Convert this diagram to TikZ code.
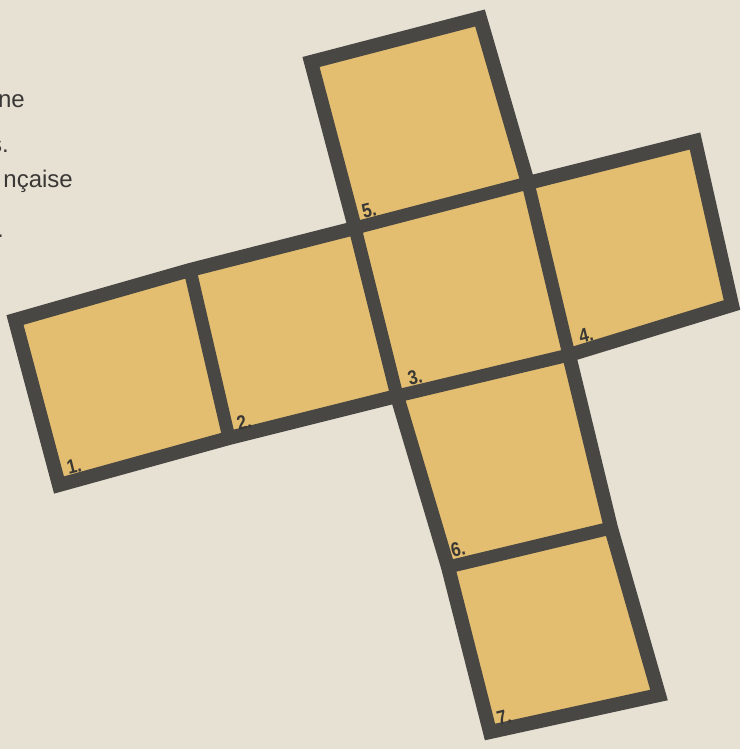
\documentclass[tikz,border=0pt]{standalone}
\usepackage{fontspec}
\setmainfont{Liberation Sans}
\newfontfamily\labelfont[FakeStretch=0.85]{Liberation Sans}
\definecolor{paper}{RGB}{231,225,212}
\definecolor{card}{RGB}{227,190,113}
\definecolor{ink}{RGB}{73,71,68}
\definecolor{txt}{RGB}{58,56,53}
\tikzset{
  face/.style={fill=card},
  rim/.style={draw=ink, line width=14pt, line join=miter},
  fold/.style={draw=ink, line width=13pt, line cap=butt},
  facelabel/.style={text=txt, font=\labelfont\bfseries\fontsize{20}{20}\selectfont, inner sep=0pt, rotate=14},
  bodytext/.style={text=txt, font=\fontsize{24}{28}\selectfont, inner sep=0pt, anchor=base east}
}
\begin{document}
\begin{tikzpicture}[x=1pt,y=-1pt]
\fill[paper] (0,0) rectangle (740,749);
\useasboundingbox (0,0) rectangle (740,749);
\clip (0,0) rectangle (740,749);
% grid vertices (centre lines)
\coordinate (T0) at (15,320);
\coordinate (T1) at (190,270);
\coordinate (T2) at (355,228);
\coordinate (T3) at (528,183);
\coordinate (T4) at (695,141);
\coordinate (B0) at (59,485);
\coordinate (B1) at (229,438);
\coordinate (B2) at (397,396);
\coordinate (B3) at (569,355);
\coordinate (B4) at (732,305);
\coordinate (U2) at (311,62);
\coordinate (U3) at (480,18);
\coordinate (M2) at (448,567);
\coordinate (M3) at (611,528);
\coordinate (L2) at (490,732);
\coordinate (L3) at (659,695);
% faces
\path[face] (T0) -- (T1) -- (B1) -- (B0) -- cycle;
\path[face] (T1) -- (T2) -- (B2) -- (B1) -- cycle;
\path[face] (T2) -- (T3) -- (B3) -- (B2) -- cycle;
\path[face] (T3) -- (T4) -- (B4) -- (B3) -- cycle;
\path[face] (U2) -- (U3) -- (T3) -- (T2) -- cycle;
\path[face] (B2) -- (B3) -- (M3) -- (M2) -- cycle;
\path[face] (M2) -- (M3) -- (L3) -- (L2) -- cycle;
% fold lines
\path[fold] (T1) -- (B1);
\path[fold] (T2) -- (B2);
\path[fold] (T3) -- (B3);
\path[fold] (T2) -- (T3);
\path[fold] (B2) -- (B3);
\path[fold] (M2) -- (M3);
% outline
\path[rim] (T0) -- (T1) -- (T2) -- (U2) -- (U3) -- (T3) -- (T4) -- (B4) -- (B3)
  -- (M3) -- (L3) -- (L2) -- (M2) -- (B2) -- (B1) -- (B0) -- cycle;
% face labels
\node[facelabel] (n1) at (74,466) {1.};
\node[facelabel] (n2) at (244,422) {2.};
\node[facelabel] (n3) at (415,377) {3.};
\node[facelabel] (n4) at (586,335) {4.};
\node[facelabel] (n5) at (369,210) {5.};
\node[facelabel] (n6) at (458,549) {6.};
\node[facelabel] (n7) at (504,717) {7.};
% cut-off body text at the left margin
\node[bodytext] (w1) at (25,107) {ne};
\node[bodytext] (w2) at (9,153) {s.};
\node[bodytext] (w3) at (73,187) {nçaise};
\node[bodytext] (w4) at (4,237) {.};
\end{tikzpicture}
\end{document}
